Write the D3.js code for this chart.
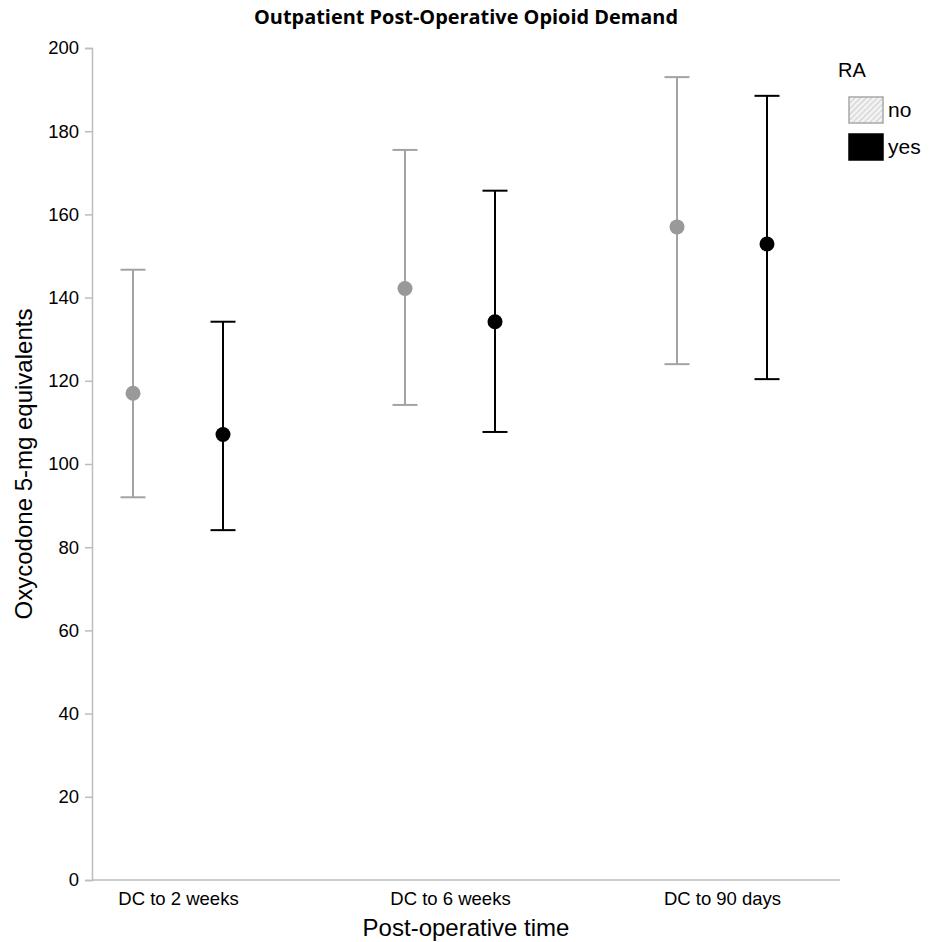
<!DOCTYPE html>
<html>
<head>
<meta charset="utf-8">
<script src="https://cdn.jsdelivr.net/npm/d3@7"></script>
<style>
  body { margin: 0; background: #fff; }
  text { font-family: "Liberation Sans", Arial, sans-serif; }
</style>
</head>
<body>
<div id="chart"></div>
<script>
// data
let categories = ["DC to 2 weeks", "DC to 6 weeks", "DC to 90 days"];
let groups = ["no", "yes"];
let mean_no = [117.0, 142.2, 157.0];
let low_no = [92.0, 114.2, 124.0];
let high_no = [146.7, 175.5, 193.0];
let mean_yes = [107.1, 134.2, 152.9];
let low_yes = [84.1, 107.7, 120.4];
let high_yes = [134.2, 165.7, 188.5];
let y_ticks = [0, 20, 40, 60, 80, 100, 120, 140, 160, 180, 200];

let rows = [];
categories.forEach((c, i) => {
    rows.push({ cat: c, ra: "no", mean: mean_no[i], low: low_no[i], high: high_no[i] });
    rows.push({ cat: c, ra: "yes", mean: mean_yes[i], low: low_yes[i], high: high_yes[i] });
});

var margin = { top: 48, right: 96, bottom: 62, left: 92 },
    width = 936 - margin.left - margin.right,
    height = 942 - margin.top - margin.bottom;

var svg = d3.select("#chart")
    .append("svg")
    .attr("width", 936)
    .attr("height", 942);

var g = svg.append("g")
    .attr("transform", "translate(" + margin.left + "," + margin.top + ")");

var x = d3.scalePoint()
    .domain(categories)
    .range([86, 630]);

var xOff = d3.scalePoint()
    .domain(groups)
    .range([-45, 45]);

var y = d3.scaleLinear()
    .domain([0, 200])
    .range([height, 0]);

var color = d3.scaleOrdinal()
    .domain(groups)
    .range(["#a3a3a3", "#000000"]);

var dotColor = d3.scaleOrdinal()
    .domain(groups)
    .range(["#999999", "#000000"]);

// y axis
var yAxis = g.append("g")
    .call(d3.axisLeft(y).tickValues(y_ticks).tickSize(7).tickPadding(6));
yAxis.select(".domain").attr("stroke", "#bdbdbd").attr("stroke-width", 1.5);
yAxis.selectAll(".tick line").attr("stroke", "#bdbdbd").attr("stroke-width", 1.5);
yAxis.selectAll(".tick text").attr("font-size", 18.5).attr("fill", "#000");

// x axis
var xAxis = g.append("g")
    .attr("transform", "translate(0," + height + ")")
    .call(d3.axisBottom(x).tickSize(0).tickPadding(12));
xAxis.select(".domain").attr("d", "M0,0H" + width).attr("stroke", "#bdbdbd").attr("stroke-width", 1.5);
xAxis.selectAll(".tick text").attr("font-size", 18.5).attr("fill", "#000");

// error bars
var cap = 12.5;
var bars = g.selectAll(".bar")
    .data(rows)
    .enter()
    .append("g")
    .attr("transform", d => "translate(" + (x(d.cat) + xOff(d.ra)) + ",0)");

bars.append("line")
    .attr("y1", d => y(d.low))
    .attr("y2", d => y(d.high))
    .attr("stroke", d => color(d.ra))
    .attr("stroke-width", 2);

bars.append("line")
    .attr("x1", -cap).attr("x2", cap)
    .attr("y1", d => y(d.high)).attr("y2", d => y(d.high))
    .attr("stroke", d => color(d.ra))
    .attr("stroke-width", 2);

bars.append("line")
    .attr("x1", -cap).attr("x2", cap)
    .attr("y1", d => y(d.low)).attr("y2", d => y(d.low))
    .attr("stroke", d => color(d.ra))
    .attr("stroke-width", 2);

bars.append("circle")
    .attr("cy", d => y(d.mean))
    .attr("r", 7.5)
    .attr("fill", d => dotColor(d.ra));

// titles
svg.append("text")
    .attr("x", 466)
    .attr("y", 24)
    .attr("text-anchor", "middle")
    .attr("font-size", 20)
    .attr("font-weight", "bold")
    .style("font-family", "'Liberation Sans Narrow', 'Open Sans', sans-serif")
    .attr("textLength", 424)
    .attr("lengthAdjust", "spacingAndGlyphs")
    .text("Outpatient Post-Operative Opioid Demand");

svg.append("text")
    .attr("x", margin.left + width / 2)
    .attr("y", 936)
    .attr("text-anchor", "middle")
    .attr("font-size", 24)
    .text("Post-operative time");

svg.append("text")
    .attr("transform", "translate(32," + (margin.top + height / 2) + ") rotate(-90)")
    .attr("text-anchor", "middle")
    .attr("font-size", 24)
    .text("Oxycodone 5-mg equivalents");

// legend
var defs = svg.append("defs");
var pat = defs.append("pattern")
    .attr("id", "hatch")
    .attr("patternUnits", "userSpaceOnUse")
    .attr("width", 4)
    .attr("height", 4)
    .attr("patternTransform", "rotate(45)");
pat.append("rect").attr("width", 4).attr("height", 4).attr("fill", "#f2f2f2");
pat.append("line").attr("x1", 0).attr("y1", 0).attr("x2", 0).attr("y2", 4)
    .attr("stroke", "#c4c4c4").attr("stroke-width", 1.5);

var legend = svg.append("g").attr("transform", "translate(838,0)");
legend.append("text")
    .attr("x", 0).attr("y", 77)
    .attr("font-size", 20)
    .text("RA");

var items = legend.selectAll(".item")
    .data(groups)
    .enter()
    .append("g")
    .attr("transform", (d, i) => "translate(0," + (97 + i * 37) + ")");

items.append("rect")
    .attr("x", 11).attr("y", 0)
    .attr("width", 34).attr("height", 26)
    .attr("fill", d => d == "no" ? "url(#hatch)" : "#000")
    .attr("stroke", d => d == "no" ? "#a8a8a8" : "#000")
    .attr("stroke-width", 1.5);

items.append("text")
    .attr("x", 50).attr("y", 20)
    .attr("font-size", 21)
    .text(d => d);
</script>
</body>
</html>
